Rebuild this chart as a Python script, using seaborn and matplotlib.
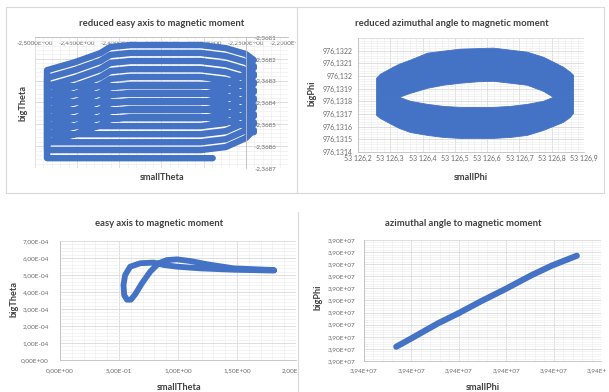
import matplotlib
matplotlib.use("Agg")
import matplotlib.pyplot as plt
import seaborn as sns
from matplotlib.ticker import FixedLocator, FixedFormatter, AutoMinorLocator
from matplotlib.transforms import Bbox, TransformedBbox
from matplotlib.lines import Line2D

# ---------------- data ----------------
# Panel 1: reduced easy axis (spiral of stacked loops)
p1_x_ticks = [-2.50, -2.45, -2.40, -2.35, -2.30, -2.25, -2.20]
p1_x_labels = ["-2,5000E+00", "-2,4500E+00", "-2,4000E+00", "-2,3500E+00",
               "-2,3000E+00", "-2,2500E+00", "-2,2000E+00"]
p1_y_ticks = [-2.3687, -2.3686, -2.3685, -2.3684, -2.3683, -2.3682, -2.3681]
p1_y_labels = ["-2,3687", "-2,3686", "-2,3685", "-2,3684", "-2,3683", "-2,3682", "-2,3681"]
p1_loop_top = [-2.368467, -2.368430, -2.368394, -2.368357, -2.368320,
               -2.368283, -2.368247, -2.368210, -2.368173, -2.368137]
p1_loop_bottom = [-2.368655, -2.368618, -2.368582, -2.368545, -2.368508,
                  -2.368472, -2.368435, -2.368398, -2.368361, -2.368325]
p1_top_shape_x = [-2.4857, -2.4524, -2.4226, -2.4107, -2.3869, -2.3036, -2.2738, -2.2500, -2.2405]
p1_top_shape_dy = [1.15e-4, 0.78e-4, 0.37e-4, 0.09e-4, 0.0, 0.0, 0.14e-4, 0.41e-4, 0.69e-4]
p1_bot_shape_x = [-2.2405, -2.2500, -2.2738, -2.3036, -2.4857]
p1_bot_shape_dy = [0.92e-4, 0.55e-4, 0.14e-4, 0.0, 0.0]
p1_tail_x = -2.2893

# Panel 2: reduced azimuthal angle (thick elliptical ring)
p2_x_ticks = [53126.2, 53126.3, 53126.4, 53126.5, 53126.6, 53126.7, 53126.8, 53126.9]
p2_x_labels = ["53 126,2", "53 126,3", "53 126,4", "53 126,5",
               "53 126,6", "53 126,7", "53 126,8", "53 126,9"]
p2_y_ticks = [976.1314, 976.1315, 976.1316, 976.1317, 976.1318, 976.1319,
              976.1320, 976.1321, 976.1322, 976.1323]
p2_y_labels = ["976,1314", "976,1315", "976,1316", "976,1317", "976,1318", "976,1319",
               "976,132", "976,1321", "976,1322", ""]
ring_x = [53126.256, 53126.268, 53126.308, 53126.327, 53126.361, 53126.414, 53126.463,
          53126.516, 53126.568, 53126.618, 53126.671, 53126.723, 53126.773, 53126.804,
          53126.835, 53126.856, 53126.866]
ring_outer_top = [976.131986, 976.132018, 976.132073, 976.132097, 976.132129, 976.132184,
                  976.132200, 976.132216, 976.132220, 976.132224, 976.132208, 976.132192,
                  976.132152, 976.132113, 976.132073, 976.132034, 976.132010]
ring_outer_bottom = [976.131693, 976.131669, 976.131614, 976.131590, 976.131558, 976.131535,
                     976.131519, 976.131511, 976.131511, 976.131511, 976.131519, 976.131535,
                     976.131574, 976.131606, 976.131638, 976.131677, 976.131709]
ring_hole_top = [976.131836, 976.131836, 976.131836, 976.131836, 976.131867, 976.131907,
                 976.131931, 976.131947, 976.131958, 976.131962, 976.131947, 976.131931,
                 976.131883, 976.131836, 976.131836, 976.131836, 976.131836]
ring_hole_bottom = [976.131836, 976.131836, 976.131836, 976.131836, 976.131804, 976.131780,
                    976.131764, 976.131756, 976.131756, 976.131756, 976.131764, 976.131780,
                    976.131804, 976.131836, 976.131836, 976.131836, 976.131836]

# Panel 3: easy axis to magnetic moment
p3_x_ticks = [0.0, 0.5, 1.0, 1.5, 2.0]
p3_x_labels = ["0,00E+00", "5,00E-01", "1,00E+00", "1,50E+00", "2,00E+00"]
p3_y_ticks = [0.0, 1e-4, 2e-4, 3e-4, 4e-4, 5e-4, 6e-4, 7e-4]
p3_y_labels = ["0,00E+00", "1,00E-04", "2,00E-04", "3,00E-04",
               "4,00E-04", "5,00E-04", "6,00E-04", "7,00E-04"]
small_theta = [1.813, 1.473, 1.190, 0.992, 0.878, 0.793, 0.680, 0.595, 0.552, 0.538, 0.544,
               0.567, 0.601, 0.637, 0.694, 0.765, 0.836, 0.907, 0.992, 1.105, 1.246, 1.473, 1.813]
big_theta = [5.26e-4, 5.31e-4, 5.39e-4, 5.49e-4, 5.59e-4, 5.73e-4, 5.69e-4, 5.49e-4, 5.00e-4,
             4.41e-4, 3.82e-4, 3.55e-4, 3.55e-4, 3.86e-4, 4.51e-4, 5.20e-4, 5.69e-4, 5.88e-4,
             5.92e-4, 5.82e-4, 5.63e-4, 5.39e-4, 5.29e-4]

# Panel 4: azimuthal angle to magnetic moment
p4_x_ticks = [39400000, 39405000, 39410000, 39415000, 39420000, 39425000]
p4_x_labels = ["3,94E+07"] * 6
p4_y_ticks = [39000000 + 2000 * k for k in range(11)]
p4_y_labels = ["3,90E+07"] * 11
small_phi = [39403400, 39405000, 39407800, 39409950, 39412400, 39414850, 39417700,
             39419800, 39422450]
big_phi = [39002360, 39003740, 39006220, 39007880, 39009920, 39011840, 39014200,
           39015760, 39017400]

titles = ["reduced easy axis to magnetic moment", "reduced azimuthal angle to magnetic moment",
          "easy axis to magnetic moment", "azimuthal angle to magnetic moment"]

# ---------------- style ----------------
sns.set_theme(style="white")
plt.rcParams['font.family'] = ['Lato', 'DejaVu Sans']

BLUE = "#4472C4"
GRID = "#d9d9d9"
MINOR = "#eeeeee"
TICKC = "#6a6a6a"
TXT = "#404040"

W, H = 609, 392
fig = plt.figure(figsize=(W / 100, H / 100), dpi=100)
fig.patch.set_facecolor("white")


def add_ax(l, r, t, b):
    return fig.add_axes([l / W, 1 - b / H, (r - l) / W, (b - t) / H])


def style(ax, xt, xl, yt, yl, fs=5.0):
    ax.xaxis.set_major_locator(FixedLocator(xt))
    ax.xaxis.set_major_formatter(FixedFormatter(xl))
    ax.yaxis.set_major_locator(FixedLocator(yt))
    ax.yaxis.set_major_formatter(FixedFormatter(yl))
    ax.xaxis.set_minor_locator(AutoMinorLocator(5))
    ax.yaxis.set_minor_locator(AutoMinorLocator(5))
    ax.grid(which="major", color=GRID, lw=0.6)
    ax.grid(which="minor", color=MINOR, lw=0.5)
    ax.set_axisbelow(True)
    ax.tick_params(which="both", length=0, labelsize=fs, labelcolor=TICKC)
    ax.set_xlabel("")
    ax.set_ylabel("")
    for s in ax.spines.values():
        s.set_color("#bfbfbf")
        s.set_linewidth(0.6)


def clip_xlabels(ax, xmax_px):
    box = TransformedBbox(Bbox.from_extents(0, 0, xmax_px / W, 1), fig.transFigure)
    for lab in ax.get_xticklabels():
        lab.set_clip_box(box)
        lab.set_clip_on(True)


def ftext(x, y, s, size, rot=0):
    fig.text(x / W, 1 - y / H, s, ha="center", va="center", fontsize=size,
             fontweight="bold", color=TXT, rotation=rot)


# ---------------- panel 1 ----------------
ax1 = add_ax(35, 288, 37, 168)
xs, ys = [], []
for i, (t, b) in enumerate(zip(p1_loop_top, p1_loop_bottom)):
    if i == 0:
        xs.append(p1_tail_x)
        ys.append(b)
    for bx, bdy in zip(p1_bot_shape_x, p1_bot_shape_dy):
        if i == 0 and bx > p1_tail_x:
            continue
        xs.append(bx)
        ys.append(b + bdy)
    for tx, tdy in zip(p1_top_shape_x, p1_top_shape_dy):
        xs.append(tx)
        ys.append(t - tdy)
sns.lineplot(x=xs, y=ys, sort=False, estimator=None, ax=ax1, color=BLUE, lw=4.6,
             solid_capstyle="round", solid_joinstyle="round")
ax1.set_xlim(-2.5, -2.2)
ax1.set_ylim(-2.3687, -2.3681)
style(ax1, p1_x_ticks, p1_x_labels, p1_y_ticks, p1_y_labels, fs=4.5)
ax1.spines["left"].set_visible(False)
ax1.spines["top"].set_visible(False)
ax1.spines["bottom"].set_position(("data", -2.3681))
ax1.spines["right"].set_position(("data", -2.25))
ax1.yaxis.tick_right()
ax1.tick_params(axis="y", pad=6)
ax1.tick_params(axis="x", pad=2.5)
clip_xlabels(ax1, 296)

# ---------------- panel 2 ----------------
ax2 = add_ax(358, 584, 38, 152)
ax2.fill_between(ring_x, ring_outer_top, ring_hole_top, color=BLUE, lw=0.6, edgecolor=BLUE)
ax2.fill_between(ring_x, ring_hole_bottom, ring_outer_bottom, color=BLUE, lw=0.6, edgecolor=BLUE)
ax2.set_xlim(53126.2, 53126.9)
ax2.set_ylim(976.1314, 976.1323)
style(ax2, p2_x_ticks, p2_x_labels, p2_y_ticks, p2_y_labels, fs=5.0)
ax2.spines["top"].set_visible(False)
ax2.spines["right"].set_visible(False)
ax2.tick_params(axis="y", pad=4)
ax2.tick_params(axis="x", pad=2)

# ---------------- panel 3 ----------------
ax3 = add_ax(60, 296, 241, 360)
sns.lineplot(x=small_theta, y=big_theta, sort=False, estimator=None, ax=ax3, color=BLUE,
             lw=4.2, solid_capstyle="round", solid_joinstyle="round")
ax3.set_xlim(0, 2.0)
ax3.set_ylim(0, 7e-4)
style(ax3, p3_x_ticks, p3_x_labels, p3_y_ticks, p3_y_labels, fs=4.6)
ax3.spines["top"].set_visible(False)
ax3.spines["right"].set_visible(False)
ax3.tick_params(axis="y", pad=8)
ax3.tick_params(axis="x", pad=6)
clip_xlabels(ax3, 297)

# ---------------- panel 4 ----------------
ax4 = add_ax(364, 601, 240, 361)
sns.lineplot(x=small_phi, y=big_phi, sort=False, estimator=None, ax=ax4, color=BLUE,
             lw=4.4, solid_capstyle="round", solid_joinstyle="round")
ax4.set_xlim(39400000, 39425000)
ax4.set_ylim(39000000, 39020000)
style(ax4, p4_x_ticks, p4_x_labels, p4_y_ticks, p4_y_labels, fs=4.6)
ax4.spines["top"].set_visible(False)
ax4.spines["right"].set_visible(False)
ax4.tick_params(axis="y", pad=6)
ax4.tick_params(axis="x", pad=5.5)
clip_xlabels(ax4, 606)

# ---------------- texts ----------------
ftext(162, 23, titles[0], 6.8)
ftext(452, 23, titles[1], 6.8)
ftext(159, 223, titles[2], 6.8)
ftext(463, 223, titles[3], 6.8)
ftext(162, 178, "smallTheta", 6.6)
ftext(23, 103, "bigTheta", 6.6, rot=90)
ftext(471, 178, "smallPhi", 6.6)
ftext(312, 93, "bigPhi", 6.6, rot=90)
ftext(179, 387, "smallTheta", 6.6)
ftext(14, 299, "bigTheta", 6.6, rot=90)
ftext(483, 387, "smallPhi", 6.6)
ftext(318, 297, "bigPhi", 6.6, rot=90)

# ---------------- panel borders ----------------
def fline(xa, ya, xb, yb):
    fig.add_artist(Line2D([xa / W, xb / W], [1 - ya / H, 1 - yb / H], color="#d9d9d9", lw=0.8))

fline(6, 7, 604, 7)
fline(6, 193, 604, 193)
fline(6, 7, 6, 193)
fline(297, 7, 297, 193)
fline(604, 7, 604, 193)
fline(298, 212, 298, 392)

fig.savefig("out.png", dpi=100, facecolor="white")
